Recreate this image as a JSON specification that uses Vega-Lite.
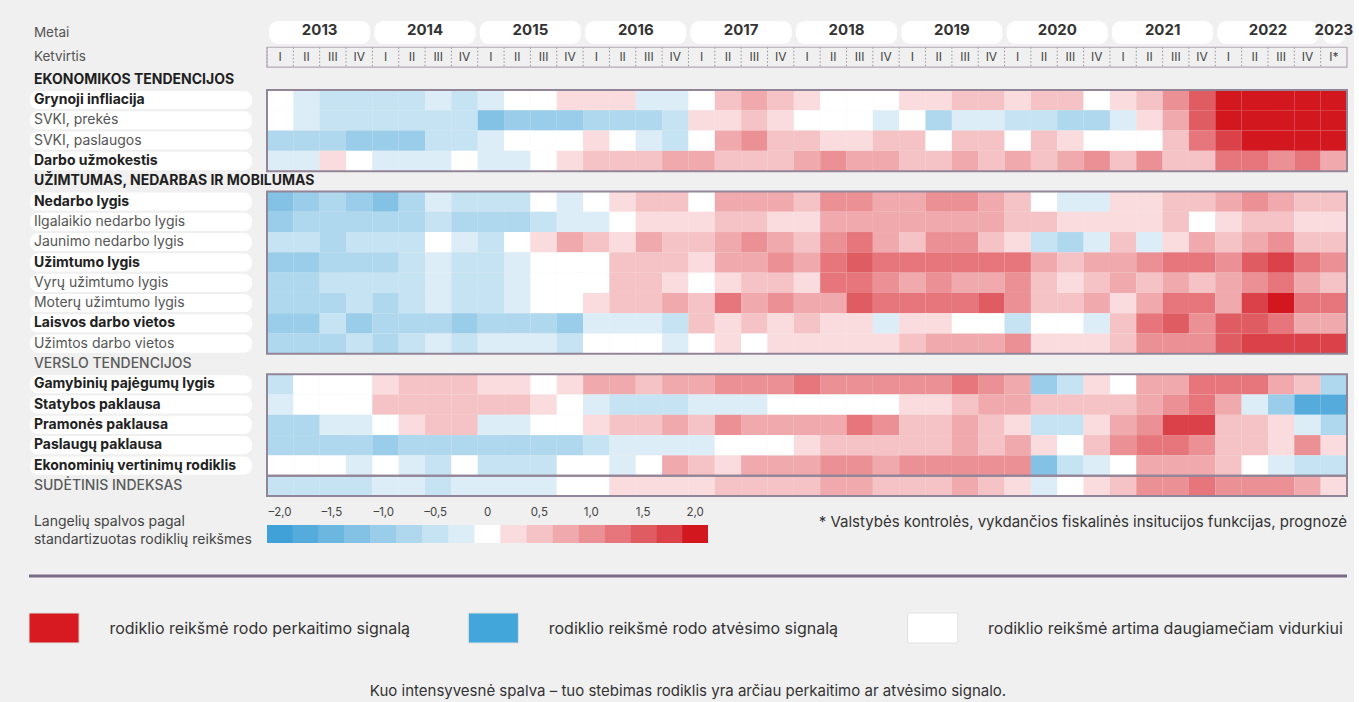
{
"$schema": "https://vega.github.io/schema/vega-lite/v6.json",
"background": "#f0f0f0",
"padding": {"left": 27, "top": 17, "right": 0, "bottom": 0},
"config": {"view": {"stroke": null}, "font": "Inter", "text": {"font": "Inter"}},
"datasets": {
"labels": [
{"k":"MT","t":"Metai","s":"meta"},{"k":"KT","t":"Ketvirtis","s":"meta"},
{"k":"H1","t":"EKONOMIKOS TENDENCIJOS","s":"sec"},
{"k":"GI","t":"Grynoji infliacija","s":"b"},{"k":"SP","t":"SVKI, prekės","s":"n"},{"k":"SV","t":"SVKI, paslaugos","s":"n"},{"k":"DU","t":"Darbo užmokestis","s":"b"},
{"k":"H2","t":"UŽIMTUMAS, NEDARBAS IR MOBILUMAS","s":"sec"},
{"k":"NL","t":"Nedarbo lygis","s":"b"},{"k":"IN","t":"Ilgalaikio nedarbo lygis","s":"n"},{"k":"JN","t":"Jaunimo nedarbo lygis","s":"n"},{"k":"UL","t":"Užimtumo lygis","s":"b"},{"k":"VU","t":"Vyrų užimtumo lygis","s":"n"},{"k":"MU","t":"Moterų užimtumo lygis","s":"n"},{"k":"LV","t":"Laisvos darbo vietos","s":"b"},{"k":"UV","t":"Užimtos darbo vietos","s":"n"},
{"k":"H3","t":"VERSLO TENDENCIJOS","s":"sec2"},
{"k":"GP","t":"Gamybinių pajėgumų lygis","s":"b"},{"k":"SB","t":"Statybos paklausa","s":"b"},{"k":"PP","t":"Pramonės paklausa","s":"b"},{"k":"PS","t":"Paslaugų paklausa","s":"b"},{"k":"EV","t":"Ekonominių vertinimų rodiklis","s":"b"},
{"k":"SI","t":"SUDĖTINIS INDEKSAS","s":"sec2"}
],
"years": [
{"y":"2013","q1":"2013Q1","q2":"2013Q2","q4":"2013Q4"},{"y":"2014","q1":"2014Q1","q2":"2014Q2","q4":"2014Q4"},{"y":"2015","q1":"2015Q1","q2":"2015Q2","q4":"2015Q4"},{"y":"2016","q1":"2016Q1","q2":"2016Q2","q4":"2016Q4"},{"y":"2017","q1":"2017Q1","q2":"2017Q2","q4":"2017Q4"},{"y":"2018","q1":"2018Q1","q2":"2018Q2","q4":"2018Q4"},{"y":"2019","q1":"2019Q1","q2":"2019Q2","q4":"2019Q4"},{"y":"2020","q1":"2020Q1","q2":"2020Q2","q4":"2020Q4"},{"y":"2021","q1":"2021Q1","q2":"2021Q2","q4":"2021Q4"},{"y":"2022","q1":"2022Q1","q2":"2022Q2","q4":"2022Q4"},{"y":"2023","q1":"2023Q1","q2":"2023Q1","q4":"2023Q1"}
],
"quarters": [
{"q":"2013Q1","l":"I"},{"q":"2013Q2","l":"II"},{"q":"2013Q3","l":"III"},{"q":"2013Q4","l":"IV"},
{"q":"2014Q1","l":"I"},{"q":"2014Q2","l":"II"},{"q":"2014Q3","l":"III"},{"q":"2014Q4","l":"IV"},
{"q":"2015Q1","l":"I"},{"q":"2015Q2","l":"II"},{"q":"2015Q3","l":"III"},{"q":"2015Q4","l":"IV"},
{"q":"2016Q1","l":"I"},{"q":"2016Q2","l":"II"},{"q":"2016Q3","l":"III"},{"q":"2016Q4","l":"IV"},
{"q":"2017Q1","l":"I"},{"q":"2017Q2","l":"II"},{"q":"2017Q3","l":"III"},{"q":"2017Q4","l":"IV"},
{"q":"2018Q1","l":"I"},{"q":"2018Q2","l":"II"},{"q":"2018Q3","l":"III"},{"q":"2018Q4","l":"IV"},
{"q":"2019Q1","l":"I"},{"q":"2019Q2","l":"II"},{"q":"2019Q3","l":"III"},{"q":"2019Q4","l":"IV"},
{"q":"2020Q1","l":"I"},{"q":"2020Q2","l":"II"},{"q":"2020Q3","l":"III"},{"q":"2020Q4","l":"IV"},
{"q":"2021Q1","l":"I"},{"q":"2021Q2","l":"II"},{"q":"2021Q3","l":"III"},{"q":"2021Q4","l":"IV"},
{"q":"2022Q1","l":"I"},{"q":"2022Q2","l":"II"},{"q":"2022Q3","l":"III"},{"q":"2022Q4","l":"IV"},
{"q":"2023Q1","l":"I*"}
],
"boxes": [{"a":"GI","b":"DU"},{"a":"NL","b":"UV"},{"a":"GP","b":"EV"},{"a":"SI","b":"SI"}],
"legend": [
{"v":-2,"l":"–2,0"},{"v":-1.75,"l":""},{"v":-1.5,"l":"–1,5"},{"v":-1.25,"l":""},{"v":-1,"l":"–1,0"},{"v":-0.75,"l":""},{"v":-0.5,"l":"–0,5"},{"v":-0.25,"l":""},{"v":0,"l":"0"},{"v":0.25,"l":""},{"v":0.5,"l":"0,5"},{"v":0.75,"l":""},{"v":1,"l":"1,0"},{"v":1.25,"l":""},{"v":1.5,"l":"1,5"},{"v":1.75,"l":""},{"v":2,"l":"2,0"}
],
"signals": [
{"s":"perk","t":"rodiklio reikšmė rodo perkaitimo signalą"},
{"s":"atv","t":"rodiklio reikšmė rodo atvėsimo signalą"},
{"s":"vid","t":"rodiklio reikšmė artima daugiamečiam vidurkiui"}
],
"cells": [
{"k":"GI","q":"2013Q1","v":0},{"k":"GI","q":"2013Q2","v":-0.25},{"k":"GI","q":"2013Q3","v":-0.5},{"k":"GI","q":"2013Q4","v":-0.5},{"k":"GI","q":"2014Q1","v":-0.5},{"k":"GI","q":"2014Q2","v":-0.5},{"k":"GI","q":"2014Q3","v":-0.25},{"k":"GI","q":"2014Q4","v":-0.5},{"k":"GI","q":"2015Q1","v":-0.25},{"k":"GI","q":"2015Q2","v":0},{"k":"GI","q":"2015Q3","v":0},{"k":"GI","q":"2015Q4","v":0.25},{"k":"GI","q":"2016Q1","v":0.25},{"k":"GI","q":"2016Q2","v":0.25},{"k":"GI","q":"2016Q3","v":-0.25},{"k":"GI","q":"2016Q4","v":-0.25},{"k":"GI","q":"2017Q1","v":0},{"k":"GI","q":"2017Q2","v":0.5},{"k":"GI","q":"2017Q3","v":0.75},{"k":"GI","q":"2017Q4","v":0.5},{"k":"GI","q":"2018Q1","v":0.25},{"k":"GI","q":"2018Q2","v":0},{"k":"GI","q":"2018Q3","v":0},{"k":"GI","q":"2018Q4","v":0},{"k":"GI","q":"2019Q1","v":0.25},{"k":"GI","q":"2019Q2","v":0.25},{"k":"GI","q":"2019Q3","v":0.5},{"k":"GI","q":"2019Q4","v":0.5},{"k":"GI","q":"2020Q1","v":0.25},{"k":"GI","q":"2020Q2","v":0.5},{"k":"GI","q":"2020Q3","v":0.5},{"k":"GI","q":"2020Q4","v":0},{"k":"GI","q":"2021Q1","v":0.25},{"k":"GI","q":"2021Q2","v":0.5},{"k":"GI","q":"2021Q3","v":1},{"k":"GI","q":"2021Q4","v":1.5},{"k":"GI","q":"2022Q1","v":2},{"k":"GI","q":"2022Q2","v":2},{"k":"GI","q":"2022Q3","v":2},{"k":"GI","q":"2022Q4","v":2},{"k":"GI","q":"2023Q1","v":2},
{"k":"SP","q":"2013Q1","v":0},{"k":"SP","q":"2013Q2","v":-0.25},{"k":"SP","q":"2013Q3","v":-0.5},{"k":"SP","q":"2013Q4","v":-0.5},{"k":"SP","q":"2014Q1","v":-0.5},{"k":"SP","q":"2014Q2","v":-0.5},{"k":"SP","q":"2014Q3","v":-0.5},{"k":"SP","q":"2014Q4","v":-0.5},{"k":"SP","q":"2015Q1","v":-1.25},{"k":"SP","q":"2015Q2","v":-1},{"k":"SP","q":"2015Q3","v":-1},{"k":"SP","q":"2015Q4","v":-1},{"k":"SP","q":"2016Q1","v":-0.75},{"k":"SP","q":"2016Q2","v":-0.75},{"k":"SP","q":"2016Q3","v":-0.75},{"k":"SP","q":"2016Q4","v":-0.5},{"k":"SP","q":"2017Q1","v":0.25},{"k":"SP","q":"2017Q2","v":0.25},{"k":"SP","q":"2017Q3","v":0.5},{"k":"SP","q":"2017Q4","v":0.25},{"k":"SP","q":"2018Q1","v":0},{"k":"SP","q":"2018Q2","v":0},{"k":"SP","q":"2018Q3","v":0},{"k":"SP","q":"2018Q4","v":-0.25},{"k":"SP","q":"2019Q1","v":0},{"k":"SP","q":"2019Q2","v":-0.75},{"k":"SP","q":"2019Q3","v":-0.25},{"k":"SP","q":"2019Q4","v":-0.25},{"k":"SP","q":"2020Q1","v":-0.5},{"k":"SP","q":"2020Q2","v":-0.5},{"k":"SP","q":"2020Q3","v":-0.75},{"k":"SP","q":"2020Q4","v":-0.75},{"k":"SP","q":"2021Q1","v":-0.25},{"k":"SP","q":"2021Q2","v":0.25},{"k":"SP","q":"2021Q3","v":0.75},{"k":"SP","q":"2021Q4","v":1.5},{"k":"SP","q":"2022Q1","v":2},{"k":"SP","q":"2022Q2","v":2},{"k":"SP","q":"2022Q3","v":2},{"k":"SP","q":"2022Q4","v":2},{"k":"SP","q":"2023Q1","v":2},
{"k":"SV","q":"2013Q1","v":-0.75},{"k":"SV","q":"2013Q2","v":-0.75},{"k":"SV","q":"2013Q3","v":-0.75},{"k":"SV","q":"2013Q4","v":-1},{"k":"SV","q":"2014Q1","v":-1},{"k":"SV","q":"2014Q2","v":-1},{"k":"SV","q":"2014Q3","v":-0.5},{"k":"SV","q":"2014Q4","v":-0.5},{"k":"SV","q":"2015Q1","v":-0.25},{"k":"SV","q":"2015Q2","v":0},{"k":"SV","q":"2015Q3","v":0},{"k":"SV","q":"2015Q4","v":0},{"k":"SV","q":"2016Q1","v":0.25},{"k":"SV","q":"2016Q2","v":0},{"k":"SV","q":"2016Q3","v":-0.25},{"k":"SV","q":"2016Q4","v":-0.5},{"k":"SV","q":"2017Q1","v":0},{"k":"SV","q":"2017Q2","v":0.75},{"k":"SV","q":"2017Q3","v":1},{"k":"SV","q":"2017Q4","v":0.5},{"k":"SV","q":"2018Q1","v":0.5},{"k":"SV","q":"2018Q2","v":0.25},{"k":"SV","q":"2018Q3","v":0.25},{"k":"SV","q":"2018Q4","v":0.5},{"k":"SV","q":"2019Q1","v":0.5},{"k":"SV","q":"2019Q2","v":0},{"k":"SV","q":"2019Q3","v":0.5},{"k":"SV","q":"2019Q4","v":0.5},{"k":"SV","q":"2020Q1","v":0},{"k":"SV","q":"2020Q2","v":0.5},{"k":"SV","q":"2020Q3","v":0.25},{"k":"SV","q":"2020Q4","v":0},{"k":"SV","q":"2021Q1","v":0},{"k":"SV","q":"2021Q2","v":0},{"k":"SV","q":"2021Q3","v":0.5},{"k":"SV","q":"2021Q4","v":1.25},{"k":"SV","q":"2022Q1","v":1.75},{"k":"SV","q":"2022Q2","v":2},{"k":"SV","q":"2022Q3","v":2},{"k":"SV","q":"2022Q4","v":2},{"k":"SV","q":"2023Q1","v":2},
{"k":"DU","q":"2013Q1","v":-0.25},{"k":"DU","q":"2013Q2","v":-0.25},{"k":"DU","q":"2013Q3","v":0.25},{"k":"DU","q":"2013Q4","v":0},{"k":"DU","q":"2014Q1","v":-0.25},{"k":"DU","q":"2014Q2","v":-0.25},{"k":"DU","q":"2014Q3","v":-0.25},{"k":"DU","q":"2014Q4","v":0},{"k":"DU","q":"2015Q1","v":-0.25},{"k":"DU","q":"2015Q2","v":-0.25},{"k":"DU","q":"2015Q3","v":0},{"k":"DU","q":"2015Q4","v":0.25},{"k":"DU","q":"2016Q1","v":0.5},{"k":"DU","q":"2016Q2","v":0.5},{"k":"DU","q":"2016Q3","v":0.5},{"k":"DU","q":"2016Q4","v":0.75},{"k":"DU","q":"2017Q1","v":0.75},{"k":"DU","q":"2017Q2","v":0.5},{"k":"DU","q":"2017Q3","v":0.5},{"k":"DU","q":"2017Q4","v":0.5},{"k":"DU","q":"2018Q1","v":0.75},{"k":"DU","q":"2018Q2","v":1},{"k":"DU","q":"2018Q3","v":0.75},{"k":"DU","q":"2018Q4","v":0.75},{"k":"DU","q":"2019Q1","v":0.5},{"k":"DU","q":"2019Q2","v":0.5},{"k":"DU","q":"2019Q3","v":0.75},{"k":"DU","q":"2019Q4","v":0.5},{"k":"DU","q":"2020Q1","v":0.75},{"k":"DU","q":"2020Q2","v":0.5},{"k":"DU","q":"2020Q3","v":0.75},{"k":"DU","q":"2020Q4","v":1},{"k":"DU","q":"2021Q1","v":0.5},{"k":"DU","q":"2021Q2","v":1},{"k":"DU","q":"2021Q3","v":0.5},{"k":"DU","q":"2021Q4","v":0.5},{"k":"DU","q":"2022Q1","v":1.25},{"k":"DU","q":"2022Q2","v":1.25},{"k":"DU","q":"2022Q3","v":1},{"k":"DU","q":"2022Q4","v":1.25},{"k":"DU","q":"2023Q1","v":0.75},
{"k":"NL","q":"2013Q1","v":-1.25},{"k":"NL","q":"2013Q2","v":-1},{"k":"NL","q":"2013Q3","v":-0.75},{"k":"NL","q":"2013Q4","v":-1},{"k":"NL","q":"2014Q1","v":-1.25},{"k":"NL","q":"2014Q2","v":-0.75},{"k":"NL","q":"2014Q3","v":-0.25},{"k":"NL","q":"2014Q4","v":-0.5},{"k":"NL","q":"2015Q1","v":-0.5},{"k":"NL","q":"2015Q2","v":-0.5},{"k":"NL","q":"2015Q3","v":0},{"k":"NL","q":"2015Q4","v":-0.25},{"k":"NL","q":"2016Q1","v":0},{"k":"NL","q":"2016Q2","v":0.25},{"k":"NL","q":"2016Q3","v":0.5},{"k":"NL","q":"2016Q4","v":0.5},{"k":"NL","q":"2017Q1","v":0},{"k":"NL","q":"2017Q2","v":0.75},{"k":"NL","q":"2017Q3","v":0.75},{"k":"NL","q":"2017Q4","v":0.75},{"k":"NL","q":"2018Q1","v":0.5},{"k":"NL","q":"2018Q2","v":1},{"k":"NL","q":"2018Q3","v":1},{"k":"NL","q":"2018Q4","v":0.75},{"k":"NL","q":"2019Q1","v":0.75},{"k":"NL","q":"2019Q2","v":1},{"k":"NL","q":"2019Q3","v":1},{"k":"NL","q":"2019Q4","v":0.75},{"k":"NL","q":"2020Q1","v":0.5},{"k":"NL","q":"2020Q2","v":0},{"k":"NL","q":"2020Q3","v":-0.25},{"k":"NL","q":"2020Q4","v":-0.25},{"k":"NL","q":"2021Q1","v":0.25},{"k":"NL","q":"2021Q2","v":0.25},{"k":"NL","q":"2021Q3","v":0.5},{"k":"NL","q":"2021Q4","v":0.5},{"k":"NL","q":"2022Q1","v":0.75},{"k":"NL","q":"2022Q2","v":1},{"k":"NL","q":"2022Q3","v":0.75},{"k":"NL","q":"2022Q4","v":0.5},{"k":"NL","q":"2023Q1","v":0.5},
{"k":"IN","q":"2013Q1","v":-1},{"k":"IN","q":"2013Q2","v":-0.75},{"k":"IN","q":"2013Q3","v":-0.75},{"k":"IN","q":"2013Q4","v":-0.75},{"k":"IN","q":"2014Q1","v":-0.75},{"k":"IN","q":"2014Q2","v":-0.75},{"k":"IN","q":"2014Q3","v":-0.5},{"k":"IN","q":"2014Q4","v":-0.75},{"k":"IN","q":"2015Q1","v":-0.75},{"k":"IN","q":"2015Q2","v":-0.75},{"k":"IN","q":"2015Q3","v":-0.5},{"k":"IN","q":"2015Q4","v":-0.25},{"k":"IN","q":"2016Q1","v":-0.25},{"k":"IN","q":"2016Q2","v":0},{"k":"IN","q":"2016Q3","v":0.25},{"k":"IN","q":"2016Q4","v":0.25},{"k":"IN","q":"2017Q1","v":0.25},{"k":"IN","q":"2017Q2","v":0.5},{"k":"IN","q":"2017Q3","v":0.5},{"k":"IN","q":"2017Q4","v":0.25},{"k":"IN","q":"2018Q1","v":0.25},{"k":"IN","q":"2018Q2","v":0.75},{"k":"IN","q":"2018Q3","v":0.75},{"k":"IN","q":"2018Q4","v":0.75},{"k":"IN","q":"2019Q1","v":0.75},{"k":"IN","q":"2019Q2","v":0.75},{"k":"IN","q":"2019Q3","v":0.75},{"k":"IN","q":"2019Q4","v":0.75},{"k":"IN","q":"2020Q1","v":0.5},{"k":"IN","q":"2020Q2","v":0.5},{"k":"IN","q":"2020Q3","v":0.25},{"k":"IN","q":"2020Q4","v":0.25},{"k":"IN","q":"2021Q1","v":0.25},{"k":"IN","q":"2021Q2","v":0.25},{"k":"IN","q":"2021Q3","v":0.5},{"k":"IN","q":"2021Q4","v":0},{"k":"IN","q":"2022Q1","v":0.25},{"k":"IN","q":"2022Q2","v":0.5},{"k":"IN","q":"2022Q3","v":0.5},{"k":"IN","q":"2022Q4","v":0.25},{"k":"IN","q":"2023Q1","v":0.25},
{"k":"JN","q":"2013Q1","v":-0.5},{"k":"JN","q":"2013Q2","v":-0.5},{"k":"JN","q":"2013Q3","v":-0.75},{"k":"JN","q":"2013Q4","v":-0.5},{"k":"JN","q":"2014Q1","v":-0.5},{"k":"JN","q":"2014Q2","v":-0.5},{"k":"JN","q":"2014Q3","v":0},{"k":"JN","q":"2014Q4","v":-0.25},{"k":"JN","q":"2015Q1","v":-0.5},{"k":"JN","q":"2015Q2","v":0},{"k":"JN","q":"2015Q3","v":0.25},{"k":"JN","q":"2015Q4","v":0.75},{"k":"JN","q":"2016Q1","v":0.5},{"k":"JN","q":"2016Q2","v":0.25},{"k":"JN","q":"2016Q3","v":0.75},{"k":"JN","q":"2016Q4","v":0.5},{"k":"JN","q":"2017Q1","v":0.5},{"k":"JN","q":"2017Q2","v":0.75},{"k":"JN","q":"2017Q3","v":1},{"k":"JN","q":"2017Q4","v":0.75},{"k":"JN","q":"2018Q1","v":0.5},{"k":"JN","q":"2018Q2","v":1},{"k":"JN","q":"2018Q3","v":1.25},{"k":"JN","q":"2018Q4","v":0.75},{"k":"JN","q":"2019Q1","v":0.5},{"k":"JN","q":"2019Q2","v":1},{"k":"JN","q":"2019Q3","v":1},{"k":"JN","q":"2019Q4","v":0.5},{"k":"JN","q":"2020Q1","v":0.25},{"k":"JN","q":"2020Q2","v":-0.5},{"k":"JN","q":"2020Q3","v":-0.75},{"k":"JN","q":"2020Q4","v":-0.25},{"k":"JN","q":"2021Q1","v":0.5},{"k":"JN","q":"2021Q2","v":-0.25},{"k":"JN","q":"2021Q3","v":0.25},{"k":"JN","q":"2021Q4","v":0.75},{"k":"JN","q":"2022Q1","v":0.5},{"k":"JN","q":"2022Q2","v":0.75},{"k":"JN","q":"2022Q3","v":1},{"k":"JN","q":"2022Q4","v":0.5},{"k":"JN","q":"2023Q1","v":0.5},
{"k":"UL","q":"2013Q1","v":-1},{"k":"UL","q":"2013Q2","v":-1},{"k":"UL","q":"2013Q3","v":-0.75},{"k":"UL","q":"2013Q4","v":-0.75},{"k":"UL","q":"2014Q1","v":-0.75},{"k":"UL","q":"2014Q2","v":-0.5},{"k":"UL","q":"2014Q3","v":-0.25},{"k":"UL","q":"2014Q4","v":-0.5},{"k":"UL","q":"2015Q1","v":-0.5},{"k":"UL","q":"2015Q2","v":-0.25},{"k":"UL","q":"2015Q3","v":0},{"k":"UL","q":"2015Q4","v":0},{"k":"UL","q":"2016Q1","v":0},{"k":"UL","q":"2016Q2","v":0.5},{"k":"UL","q":"2016Q3","v":0.5},{"k":"UL","q":"2016Q4","v":0.5},{"k":"UL","q":"2017Q1","v":0.25},{"k":"UL","q":"2017Q2","v":0.75},{"k":"UL","q":"2017Q3","v":0.75},{"k":"UL","q":"2017Q4","v":1},{"k":"UL","q":"2018Q1","v":0.75},{"k":"UL","q":"2018Q2","v":1.25},{"k":"UL","q":"2018Q3","v":1.5},{"k":"UL","q":"2018Q4","v":1.25},{"k":"UL","q":"2019Q1","v":1.25},{"k":"UL","q":"2019Q2","v":1.25},{"k":"UL","q":"2019Q3","v":1.25},{"k":"UL","q":"2019Q4","v":1.25},{"k":"UL","q":"2020Q1","v":1.25},{"k":"UL","q":"2020Q2","v":0.75},{"k":"UL","q":"2020Q3","v":0.5},{"k":"UL","q":"2020Q4","v":0.75},{"k":"UL","q":"2021Q1","v":0.75},{"k":"UL","q":"2021Q2","v":1},{"k":"UL","q":"2021Q3","v":1.25},{"k":"UL","q":"2021Q4","v":1.25},{"k":"UL","q":"2022Q1","v":1},{"k":"UL","q":"2022Q2","v":1.5},{"k":"UL","q":"2022Q3","v":1.75},{"k":"UL","q":"2022Q4","v":1.25},{"k":"UL","q":"2023Q1","v":1},
{"k":"VU","q":"2013Q1","v":-0.75},{"k":"VU","q":"2013Q2","v":-0.75},{"k":"VU","q":"2013Q3","v":-0.5},{"k":"VU","q":"2013Q4","v":-0.5},{"k":"VU","q":"2014Q1","v":-0.5},{"k":"VU","q":"2014Q2","v":-0.5},{"k":"VU","q":"2014Q3","v":-0.25},{"k":"VU","q":"2014Q4","v":-0.5},{"k":"VU","q":"2015Q1","v":-0.5},{"k":"VU","q":"2015Q2","v":-0.25},{"k":"VU","q":"2015Q3","v":0},{"k":"VU","q":"2015Q4","v":0},{"k":"VU","q":"2016Q1","v":0},{"k":"VU","q":"2016Q2","v":0.5},{"k":"VU","q":"2016Q3","v":0.5},{"k":"VU","q":"2016Q4","v":0.25},{"k":"VU","q":"2017Q1","v":0},{"k":"VU","q":"2017Q2","v":0.25},{"k":"VU","q":"2017Q3","v":0.5},{"k":"VU","q":"2017Q4","v":0.5},{"k":"VU","q":"2018Q1","v":0.25},{"k":"VU","q":"2018Q2","v":1.25},{"k":"VU","q":"2018Q3","v":1.25},{"k":"VU","q":"2018Q4","v":1},{"k":"VU","q":"2019Q1","v":0.75},{"k":"VU","q":"2019Q2","v":1},{"k":"VU","q":"2019Q3","v":0.75},{"k":"VU","q":"2019Q4","v":0.75},{"k":"VU","q":"2020Q1","v":1},{"k":"VU","q":"2020Q2","v":0.5},{"k":"VU","q":"2020Q3","v":0.25},{"k":"VU","q":"2020Q4","v":0.5},{"k":"VU","q":"2021Q1","v":0.75},{"k":"VU","q":"2021Q2","v":0.5},{"k":"VU","q":"2021Q3","v":0.75},{"k":"VU","q":"2021Q4","v":0.5},{"k":"VU","q":"2022Q1","v":0.75},{"k":"VU","q":"2022Q2","v":1},{"k":"VU","q":"2022Q3","v":1.25},{"k":"VU","q":"2022Q4","v":0.75},{"k":"VU","q":"2023Q1","v":0.5},
{"k":"MU","q":"2013Q1","v":-0.75},{"k":"MU","q":"2013Q2","v":-0.75},{"k":"MU","q":"2013Q3","v":-0.75},{"k":"MU","q":"2013Q4","v":-0.5},{"k":"MU","q":"2014Q1","v":-0.75},{"k":"MU","q":"2014Q2","v":-0.5},{"k":"MU","q":"2014Q3","v":-0.25},{"k":"MU","q":"2014Q4","v":-0.5},{"k":"MU","q":"2015Q1","v":-0.5},{"k":"MU","q":"2015Q2","v":-0.25},{"k":"MU","q":"2015Q3","v":0},{"k":"MU","q":"2015Q4","v":0},{"k":"MU","q":"2016Q1","v":0.25},{"k":"MU","q":"2016Q2","v":0.5},{"k":"MU","q":"2016Q3","v":0.5},{"k":"MU","q":"2016Q4","v":0.75},{"k":"MU","q":"2017Q1","v":0.5},{"k":"MU","q":"2017Q2","v":1.25},{"k":"MU","q":"2017Q3","v":0.75},{"k":"MU","q":"2017Q4","v":1},{"k":"MU","q":"2018Q1","v":0.75},{"k":"MU","q":"2018Q2","v":0.75},{"k":"MU","q":"2018Q3","v":1.5},{"k":"MU","q":"2018Q4","v":1.25},{"k":"MU","q":"2019Q1","v":1.25},{"k":"MU","q":"2019Q2","v":1.25},{"k":"MU","q":"2019Q3","v":1.25},{"k":"MU","q":"2019Q4","v":1.5},{"k":"MU","q":"2020Q1","v":1},{"k":"MU","q":"2020Q2","v":0.5},{"k":"MU","q":"2020Q3","v":0.5},{"k":"MU","q":"2020Q4","v":0.75},{"k":"MU","q":"2021Q1","v":0.25},{"k":"MU","q":"2021Q2","v":0.75},{"k":"MU","q":"2021Q3","v":1.25},{"k":"MU","q":"2021Q4","v":1.25},{"k":"MU","q":"2022Q1","v":0.75},{"k":"MU","q":"2022Q2","v":1.75},{"k":"MU","q":"2022Q3","v":2},{"k":"MU","q":"2022Q4","v":1.25},{"k":"MU","q":"2023Q1","v":1.25},
{"k":"LV","q":"2013Q1","v":-1},{"k":"LV","q":"2013Q2","v":-1},{"k":"LV","q":"2013Q3","v":-0.5},{"k":"LV","q":"2013Q4","v":-1},{"k":"LV","q":"2014Q1","v":-0.75},{"k":"LV","q":"2014Q2","v":-0.75},{"k":"LV","q":"2014Q3","v":-0.75},{"k":"LV","q":"2014Q4","v":-1},{"k":"LV","q":"2015Q1","v":-0.75},{"k":"LV","q":"2015Q2","v":-0.75},{"k":"LV","q":"2015Q3","v":-0.75},{"k":"LV","q":"2015Q4","v":-1},{"k":"LV","q":"2016Q1","v":-0.25},{"k":"LV","q":"2016Q2","v":-0.25},{"k":"LV","q":"2016Q3","v":-0.25},{"k":"LV","q":"2016Q4","v":-0.5},{"k":"LV","q":"2017Q1","v":0.5},{"k":"LV","q":"2017Q2","v":0.25},{"k":"LV","q":"2017Q3","v":0.5},{"k":"LV","q":"2017Q4","v":0.25},{"k":"LV","q":"2018Q1","v":0.5},{"k":"LV","q":"2018Q2","v":0.25},{"k":"LV","q":"2018Q3","v":0.25},{"k":"LV","q":"2018Q4","v":-0.25},{"k":"LV","q":"2019Q1","v":0.25},{"k":"LV","q":"2019Q2","v":0.25},{"k":"LV","q":"2019Q3","v":0},{"k":"LV","q":"2019Q4","v":0},{"k":"LV","q":"2020Q1","v":-0.5},{"k":"LV","q":"2020Q2","v":0},{"k":"LV","q":"2020Q3","v":0},{"k":"LV","q":"2020Q4","v":-0.25},{"k":"LV","q":"2021Q1","v":0.5},{"k":"LV","q":"2021Q2","v":1.25},{"k":"LV","q":"2021Q3","v":1.5},{"k":"LV","q":"2021Q4","v":1},{"k":"LV","q":"2022Q1","v":1.5},{"k":"LV","q":"2022Q2","v":1.5},{"k":"LV","q":"2022Q3","v":1.25},{"k":"LV","q":"2022Q4","v":0.75},{"k":"LV","q":"2023Q1","v":0.75},
{"k":"UV","q":"2013Q1","v":-0.75},{"k":"UV","q":"2013Q2","v":-0.75},{"k":"UV","q":"2013Q3","v":-0.75},{"k":"UV","q":"2013Q4","v":-0.5},{"k":"UV","q":"2014Q1","v":-0.75},{"k":"UV","q":"2014Q2","v":-0.5},{"k":"UV","q":"2014Q3","v":-0.25},{"k":"UV","q":"2014Q4","v":-0.5},{"k":"UV","q":"2015Q1","v":-0.25},{"k":"UV","q":"2015Q2","v":-0.25},{"k":"UV","q":"2015Q3","v":-0.25},{"k":"UV","q":"2015Q4","v":-0.5},{"k":"UV","q":"2016Q1","v":0},{"k":"UV","q":"2016Q2","v":0},{"k":"UV","q":"2016Q3","v":0},{"k":"UV","q":"2016Q4","v":-0.25},{"k":"UV","q":"2017Q1","v":0},{"k":"UV","q":"2017Q2","v":0.25},{"k":"UV","q":"2017Q3","v":0},{"k":"UV","q":"2017Q4","v":0.25},{"k":"UV","q":"2018Q1","v":0.25},{"k":"UV","q":"2018Q2","v":0.25},{"k":"UV","q":"2018Q3","v":0.25},{"k":"UV","q":"2018Q4","v":0.25},{"k":"UV","q":"2019Q1","v":0.5},{"k":"UV","q":"2019Q2","v":0.75},{"k":"UV","q":"2019Q3","v":0.75},{"k":"UV","q":"2019Q4","v":0.75},{"k":"UV","q":"2020Q1","v":1},{"k":"UV","q":"2020Q2","v":0.25},{"k":"UV","q":"2020Q3","v":0.25},{"k":"UV","q":"2020Q4","v":0.25},{"k":"UV","q":"2021Q1","v":0.5},{"k":"UV","q":"2021Q2","v":1},{"k":"UV","q":"2021Q3","v":1},{"k":"UV","q":"2021Q4","v":1},{"k":"UV","q":"2022Q1","v":1.5},{"k":"UV","q":"2022Q2","v":1.75},{"k":"UV","q":"2022Q3","v":1.75},{"k":"UV","q":"2022Q4","v":1.75},{"k":"UV","q":"2023Q1","v":1.75},
{"k":"GP","q":"2013Q1","v":-0.5},{"k":"GP","q":"2013Q2","v":0},{"k":"GP","q":"2013Q3","v":0},{"k":"GP","q":"2013Q4","v":0},{"k":"GP","q":"2014Q1","v":0.25},{"k":"GP","q":"2014Q2","v":0.5},{"k":"GP","q":"2014Q3","v":0.5},{"k":"GP","q":"2014Q4","v":0.5},{"k":"GP","q":"2015Q1","v":0.25},{"k":"GP","q":"2015Q2","v":0.25},{"k":"GP","q":"2015Q3","v":0},{"k":"GP","q":"2015Q4","v":0.25},{"k":"GP","q":"2016Q1","v":0.75},{"k":"GP","q":"2016Q2","v":0.75},{"k":"GP","q":"2016Q3","v":0.5},{"k":"GP","q":"2016Q4","v":0.75},{"k":"GP","q":"2017Q1","v":0.75},{"k":"GP","q":"2017Q2","v":1},{"k":"GP","q":"2017Q3","v":1},{"k":"GP","q":"2017Q4","v":1},{"k":"GP","q":"2018Q1","v":1.25},{"k":"GP","q":"2018Q2","v":1},{"k":"GP","q":"2018Q3","v":1},{"k":"GP","q":"2018Q4","v":1},{"k":"GP","q":"2019Q1","v":1},{"k":"GP","q":"2019Q2","v":1},{"k":"GP","q":"2019Q3","v":1.25},{"k":"GP","q":"2019Q4","v":1},{"k":"GP","q":"2020Q1","v":0.75},{"k":"GP","q":"2020Q2","v":-1},{"k":"GP","q":"2020Q3","v":-0.5},{"k":"GP","q":"2020Q4","v":0.25},{"k":"GP","q":"2021Q1","v":0},{"k":"GP","q":"2021Q2","v":0.75},{"k":"GP","q":"2021Q3","v":0.75},{"k":"GP","q":"2021Q4","v":1.25},{"k":"GP","q":"2022Q1","v":1.25},{"k":"GP","q":"2022Q2","v":1.25},{"k":"GP","q":"2022Q3","v":0.75},{"k":"GP","q":"2022Q4","v":0.5},{"k":"GP","q":"2023Q1","v":-0.75},
{"k":"SB","q":"2013Q1","v":-0.25},{"k":"SB","q":"2013Q2","v":0},{"k":"SB","q":"2013Q3","v":0},{"k":"SB","q":"2013Q4","v":0},{"k":"SB","q":"2014Q1","v":0.5},{"k":"SB","q":"2014Q2","v":0.5},{"k":"SB","q":"2014Q3","v":0.5},{"k":"SB","q":"2014Q4","v":0.5},{"k":"SB","q":"2015Q1","v":0.5},{"k":"SB","q":"2015Q2","v":0.5},{"k":"SB","q":"2015Q3","v":0.25},{"k":"SB","q":"2015Q4","v":0},{"k":"SB","q":"2016Q1","v":-0.25},{"k":"SB","q":"2016Q2","v":-0.5},{"k":"SB","q":"2016Q3","v":-0.5},{"k":"SB","q":"2016Q4","v":-0.5},{"k":"SB","q":"2017Q1","v":-0.25},{"k":"SB","q":"2017Q2","v":-0.25},{"k":"SB","q":"2017Q3","v":-0.25},{"k":"SB","q":"2017Q4","v":0},{"k":"SB","q":"2018Q1","v":0},{"k":"SB","q":"2018Q2","v":0},{"k":"SB","q":"2018Q3","v":0},{"k":"SB","q":"2018Q4","v":0},{"k":"SB","q":"2019Q1","v":0.25},{"k":"SB","q":"2019Q2","v":0.25},{"k":"SB","q":"2019Q3","v":0.5},{"k":"SB","q":"2019Q4","v":0.75},{"k":"SB","q":"2020Q1","v":0.75},{"k":"SB","q":"2020Q2","v":0.5},{"k":"SB","q":"2020Q3","v":0.5},{"k":"SB","q":"2020Q4","v":0.5},{"k":"SB","q":"2021Q1","v":0.5},{"k":"SB","q":"2021Q2","v":0.75},{"k":"SB","q":"2021Q3","v":1},{"k":"SB","q":"2021Q4","v":1.25},{"k":"SB","q":"2022Q1","v":0.75},{"k":"SB","q":"2022Q2","v":-0.25},{"k":"SB","q":"2022Q3","v":-1},{"k":"SB","q":"2022Q4","v":-1.75},{"k":"SB","q":"2023Q1","v":-1.75},
{"k":"PP","q":"2013Q1","v":-0.75},{"k":"PP","q":"2013Q2","v":-0.75},{"k":"PP","q":"2013Q3","v":-0.25},{"k":"PP","q":"2013Q4","v":-0.25},{"k":"PP","q":"2014Q1","v":0},{"k":"PP","q":"2014Q2","v":0.25},{"k":"PP","q":"2014Q3","v":0.5},{"k":"PP","q":"2014Q4","v":0.5},{"k":"PP","q":"2015Q1","v":-0.25},{"k":"PP","q":"2015Q2","v":-0.25},{"k":"PP","q":"2015Q3","v":0},{"k":"PP","q":"2015Q4","v":0},{"k":"PP","q":"2016Q1","v":0.25},{"k":"PP","q":"2016Q2","v":0.5},{"k":"PP","q":"2016Q3","v":0.5},{"k":"PP","q":"2016Q4","v":0.75},{"k":"PP","q":"2017Q1","v":0.5},{"k":"PP","q":"2017Q2","v":1},{"k":"PP","q":"2017Q3","v":0.75},{"k":"PP","q":"2017Q4","v":0.75},{"k":"PP","q":"2018Q1","v":0.75},{"k":"PP","q":"2018Q2","v":0.75},{"k":"PP","q":"2018Q3","v":1.25},{"k":"PP","q":"2018Q4","v":1},{"k":"PP","q":"2019Q1","v":0.5},{"k":"PP","q":"2019Q2","v":0.5},{"k":"PP","q":"2019Q3","v":0.75},{"k":"PP","q":"2019Q4","v":0.5},{"k":"PP","q":"2020Q1","v":0.25},{"k":"PP","q":"2020Q2","v":-0.5},{"k":"PP","q":"2020Q3","v":-0.5},{"k":"PP","q":"2020Q4","v":0.25},{"k":"PP","q":"2021Q1","v":0.75},{"k":"PP","q":"2021Q2","v":1},{"k":"PP","q":"2021Q3","v":1.75},{"k":"PP","q":"2021Q4","v":1.75},{"k":"PP","q":"2022Q1","v":0.5},{"k":"PP","q":"2022Q2","v":0.5},{"k":"PP","q":"2022Q3","v":0.25},{"k":"PP","q":"2022Q4","v":-0.25},{"k":"PP","q":"2023Q1","v":-0.75},
{"k":"PS","q":"2013Q1","v":-0.75},{"k":"PS","q":"2013Q2","v":-0.75},{"k":"PS","q":"2013Q3","v":-0.75},{"k":"PS","q":"2013Q4","v":-0.75},{"k":"PS","q":"2014Q1","v":-1},{"k":"PS","q":"2014Q2","v":-0.75},{"k":"PS","q":"2014Q3","v":-0.75},{"k":"PS","q":"2014Q4","v":-0.75},{"k":"PS","q":"2015Q1","v":-0.75},{"k":"PS","q":"2015Q2","v":-0.75},{"k":"PS","q":"2015Q3","v":-0.75},{"k":"PS","q":"2015Q4","v":-0.75},{"k":"PS","q":"2016Q1","v":-0.5},{"k":"PS","q":"2016Q2","v":-0.25},{"k":"PS","q":"2016Q3","v":-0.25},{"k":"PS","q":"2016Q4","v":-0.25},{"k":"PS","q":"2017Q1","v":-0.25},{"k":"PS","q":"2017Q2","v":0},{"k":"PS","q":"2017Q3","v":0},{"k":"PS","q":"2017Q4","v":0},{"k":"PS","q":"2018Q1","v":0.25},{"k":"PS","q":"2018Q2","v":0.5},{"k":"PS","q":"2018Q3","v":0.5},{"k":"PS","q":"2018Q4","v":0.5},{"k":"PS","q":"2019Q1","v":0.5},{"k":"PS","q":"2019Q2","v":0.5},{"k":"PS","q":"2019Q3","v":0.75},{"k":"PS","q":"2019Q4","v":0.5},{"k":"PS","q":"2020Q1","v":0.75},{"k":"PS","q":"2020Q2","v":0.25},{"k":"PS","q":"2020Q3","v":0},{"k":"PS","q":"2020Q4","v":0.5},{"k":"PS","q":"2021Q1","v":1},{"k":"PS","q":"2021Q2","v":1.25},{"k":"PS","q":"2021Q3","v":1.25},{"k":"PS","q":"2021Q4","v":1},{"k":"PS","q":"2022Q1","v":0.5},{"k":"PS","q":"2022Q2","v":0.5},{"k":"PS","q":"2022Q3","v":0.25},{"k":"PS","q":"2022Q4","v":1},{"k":"PS","q":"2023Q1","v":0.25},
{"k":"EV","q":"2013Q1","v":0},{"k":"EV","q":"2013Q2","v":0},{"k":"EV","q":"2013Q3","v":0},{"k":"EV","q":"2013Q4","v":-0.25},{"k":"EV","q":"2014Q1","v":0},{"k":"EV","q":"2014Q2","v":-0.25},{"k":"EV","q":"2014Q3","v":-0.5},{"k":"EV","q":"2014Q4","v":0},{"k":"EV","q":"2015Q1","v":-0.5},{"k":"EV","q":"2015Q2","v":-0.5},{"k":"EV","q":"2015Q3","v":-0.5},{"k":"EV","q":"2015Q4","v":0},{"k":"EV","q":"2016Q1","v":0},{"k":"EV","q":"2016Q2","v":-0.25},{"k":"EV","q":"2016Q3","v":0},{"k":"EV","q":"2016Q4","v":0.75},{"k":"EV","q":"2017Q1","v":0.5},{"k":"EV","q":"2017Q2","v":0.25},{"k":"EV","q":"2017Q3","v":0.75},{"k":"EV","q":"2017Q4","v":0.75},{"k":"EV","q":"2018Q1","v":0.75},{"k":"EV","q":"2018Q2","v":1},{"k":"EV","q":"2018Q3","v":1},{"k":"EV","q":"2018Q4","v":0.75},{"k":"EV","q":"2019Q1","v":1},{"k":"EV","q":"2019Q2","v":1},{"k":"EV","q":"2019Q3","v":1},{"k":"EV","q":"2019Q4","v":1},{"k":"EV","q":"2020Q1","v":1},{"k":"EV","q":"2020Q2","v":-1.25},{"k":"EV","q":"2020Q3","v":-0.5},{"k":"EV","q":"2020Q4","v":-0.25},{"k":"EV","q":"2021Q1","v":0},{"k":"EV","q":"2021Q2","v":0.75},{"k":"EV","q":"2021Q3","v":0.75},{"k":"EV","q":"2021Q4","v":0.75},{"k":"EV","q":"2022Q1","v":0.5},{"k":"EV","q":"2022Q2","v":0},{"k":"EV","q":"2022Q3","v":-0.25},{"k":"EV","q":"2022Q4","v":-0.5},{"k":"EV","q":"2023Q1","v":-0.5},
{"k":"SI","q":"2013Q1","v":-0.5},{"k":"SI","q":"2013Q2","v":-0.5},{"k":"SI","q":"2013Q3","v":-0.5},{"k":"SI","q":"2013Q4","v":-0.5},{"k":"SI","q":"2014Q1","v":-0.25},{"k":"SI","q":"2014Q2","v":-0.25},{"k":"SI","q":"2014Q3","v":-0.5},{"k":"SI","q":"2014Q4","v":-0.25},{"k":"SI","q":"2015Q1","v":-0.25},{"k":"SI","q":"2015Q2","v":-0.25},{"k":"SI","q":"2015Q3","v":-0.25},{"k":"SI","q":"2015Q4","v":0},{"k":"SI","q":"2016Q1","v":0},{"k":"SI","q":"2016Q2","v":0.25},{"k":"SI","q":"2016Q3","v":0.25},{"k":"SI","q":"2016Q4","v":0.25},{"k":"SI","q":"2017Q1","v":0.25},{"k":"SI","q":"2017Q2","v":0.5},{"k":"SI","q":"2017Q3","v":0.5},{"k":"SI","q":"2017Q4","v":0.5},{"k":"SI","q":"2018Q1","v":0.5},{"k":"SI","q":"2018Q2","v":0.75},{"k":"SI","q":"2018Q3","v":0.75},{"k":"SI","q":"2018Q4","v":0.5},{"k":"SI","q":"2019Q1","v":0.5},{"k":"SI","q":"2019Q2","v":0.5},{"k":"SI","q":"2019Q3","v":0.75},{"k":"SI","q":"2019Q4","v":0.5},{"k":"SI","q":"2020Q1","v":0.25},{"k":"SI","q":"2020Q2","v":-0.25},{"k":"SI","q":"2020Q3","v":0},{"k":"SI","q":"2020Q4","v":0.25},{"k":"SI","q":"2021Q1","v":0.5},{"k":"SI","q":"2021Q2","v":1},{"k":"SI","q":"2021Q3","v":1},{"k":"SI","q":"2021Q4","v":1.25},{"k":"SI","q":"2022Q1","v":1},{"k":"SI","q":"2022Q2","v":1},{"k":"SI","q":"2022Q3","v":1},{"k":"SI","q":"2022Q4","v":0.75},{"k":"SI","q":"2023Q1","v":0.25}
]
},
"spacing": 7,
"resolve": {"scale": {"color": "independent", "fill": "independent"}},
"vconcat": [
{
"bounds": "flush",
"spacing": 14,
"hconcat": [
{
"width": 224, "height": 467,
"data": {"name": "labels"},
"layer": [
{"transform": [{"filter": "datum.s == 'b' || datum.s == 'n'"}],
 "mark": {"type": "rect", "fill": "#ffffff", "cornerRadius": 9, "stroke": "#f0f0f0", "strokeWidth": 2},
 "encoding": {
  "x": {"datum": 0, "type": "quantitative", "scale": {"domain": [0, 1]}, "axis": null},
  "x2": {"datum": 1},
  "y": {"field": "k", "type": "nominal", "scale": {"domain": ["MT","KT","H1","GI","SP","SV","DU","H2","NL","IN","JN","UL","VU","MU","LV","UV","H3","GP","SB","PP","PS","EV","SI"], "paddingInner": 0, "paddingOuter": 0}, "axis": null}}},
{"transform": [{"filter": "datum.k == 'MT'"}],
 "mark": {"type": "text", "align": "left", "baseline": "middle", "fontSize": 13.5, "color": "#555555", "dy": -6},
 "encoding": {"x": {"datum": 0.022, "type": "quantitative"}, "y": {"field": "k", "type": "nominal"}, "text": {"field": "t"}}},
{"transform": [{"filter": "datum.k == 'KT'"}],
 "mark": {"type": "text", "align": "left", "baseline": "middle", "fontSize": 13.5, "color": "#555555", "dy": -2},
 "encoding": {"x": {"datum": 0.022, "type": "quantitative"}, "y": {"field": "k", "type": "nominal"}, "text": {"field": "t"}}},
{"transform": [{"filter": "datum.s == 'sec'"}],
 "mark": {"type": "text", "align": "left", "baseline": "middle", "fontSize": 14, "fontWeight": "bold", "color": "#1f1f1f"},
 "encoding": {"x": {"datum": 0.022, "type": "quantitative"}, "y": {"field": "k", "type": "nominal"}, "text": {"field": "t"}}},
{"transform": [{"filter": "datum.s == 'sec2'"}],
 "mark": {"type": "text", "align": "left", "baseline": "middle", "fontSize": 14, "fontWeight": 500, "color": "#5a5a5a"},
 "encoding": {"x": {"datum": 0.022, "type": "quantitative"}, "y": {"field": "k", "type": "nominal"}, "text": {"field": "t"}}},
{"transform": [{"filter": "datum.s == 'b'"}],
 "mark": {"type": "text", "align": "left", "baseline": "middle", "fontSize": 14, "fontWeight": "bold", "color": "#222222"},
 "encoding": {"x": {"datum": 0.022, "type": "quantitative"}, "y": {"field": "k", "type": "nominal"}, "text": {"field": "t"}}},
{"transform": [{"filter": "datum.s == 'n'"}],
 "mark": {"type": "text", "align": "left", "baseline": "middle", "fontSize": 14, "color": "#555555"},
 "encoding": {"x": {"datum": 0.022, "type": "quantitative"}, "y": {"field": "k", "type": "nominal"}, "text": {"field": "t"}}}
]
},
{
"width": 1080, "height": 467,
"layer": [
{"data": {"name": "years"},
 "mark": {"type": "rect", "fill": "#ffffff", "cornerRadius": 11, "stroke": "#f0f0f0", "strokeWidth": 4},
 "encoding": {
  "x": {"field": "q1", "type": "ordinal", "bandPosition": 0, "scale": {"paddingInner": 0, "paddingOuter": 0}, "axis": null},
  "x2": {"field": "q4", "bandPosition": 1},
  "y": {"datum": "MT", "type": "nominal", "bandPosition": -0.49, "scale": {"domain": ["MT","KT","H1","GI","SP","SV","DU","H2","NL","IN","JN","UL","VU","MU","LV","UV","H3","GP","SB","PP","PS","EV","SI"], "paddingInner": 0, "paddingOuter": 0}, "axis": null},
  "y2": {"datum": "MT", "bandPosition": 0.84}}},
{"data": {"name": "years"}, "transform": [{"filter": "datum.q1 != datum.q4"}],
 "mark": {"type": "text", "fontSize": 15, "fontWeight": "bold", "color": "#333333", "dy": -9},
 "encoding": {"x": {"field": "q2", "type": "ordinal", "bandPosition": 1}, "y": {"datum": "MT", "type": "nominal"}, "text": {"field": "y"}}},
{"data": {"name": "years"}, "transform": [{"filter": "datum.q1 == datum.q4"}],
 "mark": {"type": "text", "fontSize": 15, "fontWeight": "bold", "color": "#333333", "dy": -9},
 "encoding": {"x": {"field": "q1", "type": "ordinal", "bandPosition": 0.5}, "y": {"datum": "MT", "type": "nominal"}, "text": {"field": "y"}}},
{"data": {"name": "quarters"},
 "mark": {"type": "rule", "color": "#9a8f9c", "strokeDash": [1.5, 2], "strokeWidth": 1},
 "encoding": {"x": {"field": "q", "type": "ordinal", "bandPosition": 0}, "y": {"datum": "KT", "type": "nominal", "bandPosition": -0.1}, "y2": {"datum": "KT", "bandPosition": 0.88}}},
{"data": {"values": [{}]},
 "mark": {"type": "rect", "fill": "transparent", "stroke": "#b3a6b6", "strokeWidth": 1.2},
 "encoding": {"x": {"datum": "2013Q1", "type": "ordinal", "bandPosition": 0}, "x2": {"datum": "2023Q1", "bandPosition": 1}, "y": {"datum": "KT", "type": "nominal", "bandPosition": -0.1}, "y2": {"datum": "KT", "bandPosition": 0.88}}},
{"data": {"name": "quarters"},
 "mark": {"type": "text", "fontSize": 12, "color": "#444444", "dy": -2},
 "encoding": {"x": {"field": "q", "type": "ordinal"}, "y": {"datum": "KT", "type": "nominal"}, "text": {"field": "l"}}},
{"data": {"name": "cells"},
 "mark": {"type": "rect"},
 "encoding": {
  "x": {"field": "q", "type": "ordinal"},
  "y": {"field": "k", "type": "nominal"},
  "color": {"field": "v", "type": "quantitative", "legend": null,
   "scale": {"type": "threshold", "domain": [-1.875,-1.625,-1.375,-1.125,-0.875,-0.625,-0.375,-0.125,0.125,0.375,0.625,0.875,1.125,1.375,1.625,1.875],
    "range": ["#3fa1d8","#55acdc","#6cb7e0","#83c2e5","#99cde9","#afd8ee","#c5e3f2","#dcedf7","#ffffff","#fadcde","#f5c3c5","#f0a9ad","#eb9095","#e6767c","#e05c63","#da4148","#d3171e"]}}}},
{"data": {"name": "boxes"},
 "mark": {"type": "rect", "fill": "transparent", "stroke": "#928598", "strokeWidth": 2},
 "encoding": {"x": {"datum": "2013Q1", "type": "ordinal", "bandPosition": 0}, "x2": {"datum": "2023Q1", "bandPosition": 1}, "y": {"field": "a", "type": "nominal", "bandPosition": 0}, "y2": {"field": "b", "bandPosition": 1}}}
]
}
]
},
{
"bounds": "flush",
"spacing": 14,
"hconcat": [
{"width": 224, "height": 40, "data": {"values": [{}]},
 "mark": {"type": "text", "align": "left", "baseline": "middle", "fontSize": 14, "color": "#444444", "lineHeight": 18},
 "encoding": {"x": {"datum": 0.022, "type": "quantitative", "scale": {"domain": [0, 1]}, "axis": null}, "y": {"datum": 0.55, "type": "quantitative", "scale": {"domain": [0, 1]}, "axis": null}, "text": {"value": ["Langelių spalvos pagal", "standartizuotas rodiklių reikšmes"]}}},
{"width": 441, "height": 40, "data": {"name": "legend"},
 "layer": [
 {"mark": {"type": "rect"},
  "encoding": {"x": {"field": "v", "type": "ordinal", "sort": "ascending", "scale": {"paddingInner": 0, "paddingOuter": 0}, "axis": null},
   "y": {"datum": "c", "type": "nominal", "bandPosition": 0.05, "scale": {"domain": ["l","c"], "paddingInner": 0, "paddingOuter": 0}, "axis": null},
   "y2": {"datum": "c", "bandPosition": 0.95},
   "color": {"field": "v", "type": "quantitative", "legend": null,
    "scale": {"type": "threshold", "domain": [-1.875,-1.625,-1.375,-1.125,-0.875,-0.625,-0.375,-0.125,0.125,0.375,0.625,0.875,1.125,1.375,1.625,1.875],
     "range": ["#3fa1d8","#55acdc","#6cb7e0","#83c2e5","#99cde9","#afd8ee","#c5e3f2","#dcedf7","#ffffff","#fadcde","#f5c3c5","#f0a9ad","#eb9095","#e6767c","#e05c63","#da4148","#d3171e"]}}}},
 {"transform": [{"filter": "datum.l != ''"}],
  "mark": {"type": "text", "fontSize": 11.5, "color": "#444444", "dy": -1},
  "encoding": {"x": {"field": "v", "type": "ordinal", "sort": "ascending"}, "y": {"datum": "l", "type": "nominal"}, "text": {"field": "l"}}}
 ]},
{"width": 625, "height": 40, "data": {"values": [{}]},
 "mark": {"type": "text", "align": "right", "baseline": "middle", "fontSize": 15, "color": "#333333"},
 "encoding": {"x": {"datum": 1, "type": "quantitative", "scale": {"domain": [0, 1]}, "axis": null}, "y": {"datum": 0.55, "type": "quantitative", "scale": {"domain": [0, 1]}, "axis": null}, "text": {"value": "* Valstybės kontrolės, vykdančios fiskalinės insitucijos funkcijas, prognozė"}}}
]
},
{
"width": 1318, "height": 150,
"layer": [
{"data": {"values": [{}]},
 "mark": {"type": "rule", "color": "#7d6b88", "strokeWidth": 3},
 "encoding": {"x": {"datum": "perk", "type": "nominal", "bandPosition": 0, "scale": {"domain": ["perk","atv","vid"], "paddingInner": 0, "paddingOuter": 0}, "axis": null},
  "x2": {"datum": "vid", "bandPosition": 1},
  "y": {"datum": "sep", "type": "nominal", "bandPosition": 0.44, "scale": {"domain": ["sep","sig","note"], "paddingInner": 0, "paddingOuter": 0}, "axis": null}}},
{"data": {"name": "signals"},
 "mark": {"type": "rect", "stroke": "#e2e2e2", "strokeWidth": 1},
 "encoding": {"x": {"field": "s", "type": "nominal", "bandPosition": 0}, "x2": {"field": "s", "bandPosition": 0.114},
  "y": {"datum": "sig", "type": "nominal", "bandPosition": 0.18}, "y2": {"datum": "sig", "bandPosition": 0.78},
  "fill": {"field": "s", "type": "nominal", "legend": null, "scale": {"domain": ["perk","atv","vid"], "range": ["#d71a21","#42a6db","#ffffff"]}}}},
{"data": {"name": "signals"},
 "mark": {"type": "text", "align": "left", "baseline": "middle", "fontSize": 16, "color": "#333333"},
 "encoding": {"x": {"field": "s", "type": "nominal", "bandPosition": 0.183}, "y": {"datum": "sig", "type": "nominal", "bandPosition": 0.5}, "text": {"field": "t"}}},
{"data": {"values": [{}]},
 "mark": {"type": "text", "baseline": "middle", "fontSize": 15, "color": "#333333"},
 "encoding": {"y": {"datum": "note", "type": "nominal", "bandPosition": 0.74}, "text": {"value": "Kuo intensyvesnė spalva – tuo stebimas rodiklis yra arčiau perkaitimo ar atvėsimo signalo."}}}
]
}
]
}
